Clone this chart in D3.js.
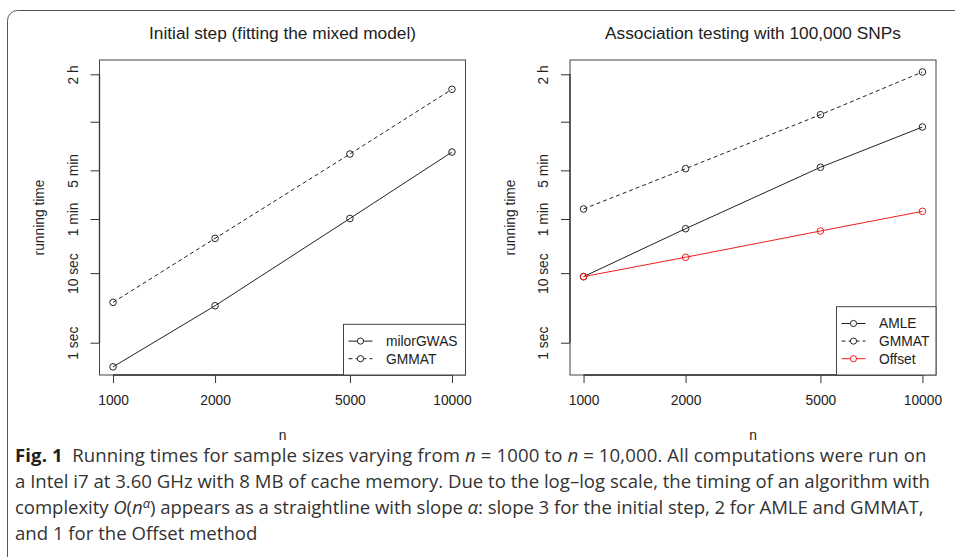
<!DOCTYPE html>
<html>
<head>
<meta charset="utf-8">
<script src="https://cdn.jsdelivr.net/npm/d3@7"></script>
<style>
  body { margin: 0; background: #fff; }
  .plot text { font-family: "Liberation Sans", Arial, Helvetica, sans-serif; fill: #222; }
</style>
</head>
<body>
<div id="chart"></div>
<script>
// sample sizes on the x axis
const sampleSizes = [1000, 2000, 5000, 10000];
// running times in seconds
const initMilorGWAS = [0.45, 3.4, 61, 550];
const initGMMAT = [3.8, 31.6, 515, 4385];
const assocAMLE = [8.9, 43.5, 332, 1259];
const assocGMMAT = [83.5, 317, 1892, 7780];
const assocOffset = [8.9, 16.9, 40.3, 77.3];
// y ticks in seconds and their labels
const timeTicks = [1, 10, 60, 300, 1500, 7200];
const timeTickLabels = ["1 sec", "10 sec", "1 min", "5 min", "", "2 h"];
const panelTitles = ["Initial step (fitting the mixed model)", "Association testing with 100,000 SNPs"];

const W = 955, H = 557;
const plotTop = 60, plotBottom = 375;

const svg = d3.select("#chart").append("svg")
  .attr("width", W).attr("height", H)
  .style("display", "block");

svg.append("rect").attr("width", W).attr("height", H).attr("fill", "#fff");

// outer frame, open to the right and bottom
svg.append("path")
  .attr("d", "M7.5,557 V20.5 A10,10 0 0 1 17.5,10.5 H955")
  .attr("fill", "none").attr("stroke", "#555").attr("stroke-width", 1);

const panels = [
  {
    title: panelTitles[0], left: 99.5, right: 465.5, legendLeft: 343.5,
    series: [
      { name: "milorGWAS", values: initMilorGWAS, color: "#222", dash: null },
      { name: "GMMAT", values: initGMMAT, color: "#222", dash: "4,3" }
    ]
  },
  {
    title: panelTitles[1], left: 570, right: 936, legendLeft: 836.5,
    series: [
      { name: "AMLE", values: assocAMLE, color: "#222", dash: null },
      { name: "GMMAT", values: assocGMMAT, color: "#222", dash: "4,3" },
      { name: "Offset", values: assocOffset, color: "#f01c1c", dash: null }
    ]
  }
];

panels.forEach(p => {
  const g = svg.append("g").attr("class", "plot");

  // R style 4% padding on each side of the log range
  const x = d3.scaleLog()
    .domain([1000 / Math.pow(10, 0.04), 10000 * Math.pow(10, 0.04)])
    .range([p.left, p.right]);
  const y = d3.scaleLog()
    .domain([Math.pow(10, -0.464), Math.pow(10, 4.063)])
    .range([plotBottom, plotTop]);

  // box
  g.append("rect")
    .attr("x", p.left).attr("y", plotTop)
    .attr("width", p.right - p.left).attr("height", plotBottom - plotTop)
    .attr("fill", "none").attr("stroke", "#444").attr("stroke-width", 1);

  // y axis
  const yAx = g.append("g")
    .attr("transform", "translate(" + p.left + ",0)")
    .call(d3.axisLeft(y).tickValues(timeTicks).tickFormat((d, i) => timeTickLabels[i]).tickSize(9).tickPadding(0));
  yAx.select(".domain").remove();
  yAx.selectAll("line").attr("stroke", "#333");
  yAx.selectAll("text")
    .attr("x", null).attr("dy", null)
    .attr("text-anchor", "middle")
    .attr("transform", "translate(-22,0) rotate(-90)")
    .style("font-size", "13.8px");
  yAx.append("line")
    .attr("y1", y(timeTicks[0])).attr("y2", y(timeTicks[timeTicks.length - 1]))
    .attr("stroke", "#333").attr("stroke-width", 1.3);

  // x axis
  const xAx = g.append("g")
    .attr("transform", "translate(0," + plotBottom + ")")
    .call(d3.axisBottom(x).tickValues(sampleSizes).tickFormat(d3.format("d")).tickSize(8).tickPadding(12));
  xAx.select(".domain").remove();
  xAx.selectAll("line").attr("stroke", "#333");
  xAx.selectAll("text").style("font-size", "13.8px");
  xAx.append("line")
    .attr("x1", x(sampleSizes[0])).attr("x2", x(sampleSizes[sampleSizes.length - 1]))
    .attr("stroke", "#333").attr("stroke-width", 1.3);

  // titles and axis labels
  g.append("text")
    .attr("x", (p.left + p.right) / 2).attr("y", 39.3)
    .attr("text-anchor", "middle")
    .style("font-size", "17.3px")
    .text(p.title);
  g.append("text")
    .attr("x", (p.left + p.right) / 2).attr("y", 440)
    .attr("text-anchor", "middle")
    .style("font-size", "13.8px")
    .text("n");
  g.append("text")
    .attr("transform", "translate(" + (p.left - 55.5) + "," + (plotTop + plotBottom) / 2 + ") rotate(-90)")
    .attr("text-anchor", "middle")
    .style("font-size", "13.8px")
    .text("running time");

  // series
  const line = d3.line().x((d, i) => x(sampleSizes[i])).y(d => y(d));
  p.series.forEach(s => {
    g.append("path")
      .datum(s.values)
      .attr("d", line)
      .attr("fill", "none")
      .attr("stroke", s.color)
      .attr("stroke-width", 1)
      .attr("stroke-dasharray", s.dash);
    g.selectAll(null)
      .data(s.values)
      .enter()
      .append("circle")
      .attr("cx", (d, i) => x(sampleSizes[i]))
      .attr("cy", d => y(d))
      .attr("r", 3.3)
      .attr("fill", "none")
      .attr("stroke", s.color)
      .attr("stroke-width", 1);
  });

  // legend, anchored bottom right of the box
  const n = p.series.length;
  const legTop = plotBottom - (15.5 + n * 17.6);
  g.append("rect")
    .attr("x", p.legendLeft).attr("y", legTop)
    .attr("width", p.right - p.legendLeft).attr("height", plotBottom - legTop)
    .attr("fill", "#fff").attr("stroke", "#444").attr("stroke-width", 1);
  p.series.forEach((s, i) => {
    const cy = legTop + 16.8 + i * 17.6;
    g.append("line")
      .attr("x1", p.legendLeft + 5).attr("x2", p.legendLeft + 29)
      .attr("y1", cy).attr("y2", cy)
      .attr("stroke", s.color).attr("stroke-width", 1)
      .attr("stroke-dasharray", s.dash);
    g.append("circle")
      .attr("cx", p.legendLeft + 17).attr("cy", cy).attr("r", 3.1)
      .attr("fill", "#fff").attr("stroke", s.color).attr("stroke-width", 1);
    g.append("text")
      .attr("x", p.legendLeft + 42.5).attr("y", cy).attr("dy", "0.35em")
      .style("font-size", "13.8px")
      .text(s.name);
  });
});

// caption
const captionLines = [
  [["Fig. 1", "b"], ["\u2002Running times for sample sizes varying from ", ""], ["n", "i"], [" = 1000 to ", ""], ["n", "i"], [" = 10,000. All computations were run on", ""]],
  [["a Intel i7 at 3.60 GHz with 8 MB of cache memory. Due to the log\u2013log scale, the timing of an algorithm with", ""]],
  [["complexity ", ""], ["O", "i"], ["(", ""], ["n", "i"], ["\u03b1", "sup"], [") appears as a straightline with slope ", ""], ["\u03b1", "i"], [": slope 3 for the initial step, 2 for AMLE and GMMAT,", ""]],
  [["and 1 for the Offset method", ""]]
];
const captionRight = [926.5, 930, 923.5, null];
const captionLeft = 15;

const cap = svg.append("g")
  .style("font-family", "'Open Sans', 'Liberation Sans', sans-serif")
  .attr("fill", "#333");

function drawCaption(size) {
  cap.selectAll("*").remove();
  return captionLines.map((segs, li) => {
    const t = cap.append("text")
      .attr("x", captionLeft).attr("y", 462 + li * 26)
      .style("font-size", size + "px");
    let raise = 0;
    segs.forEach(([str, st]) => {
      const ts = t.append("tspan").text(str);
      if (st === "b") ts.style("font-weight", "bold").attr("fill", "#231f20");
      if (st === "i") ts.style("font-style", "italic");
      if (st === "sup") {
        ts.style("font-style", "italic").style("font-size", (size * 0.7) + "px").attr("dy", -6);
        raise = 6;
      } else if (raise) {
        ts.attr("dy", raise);
        raise = 0;
      }
    });
    return t;
  });
}

// pick the font size from the unjustified last line, then justify the others
let texts = drawCaption(16);
const nat = texts[3].node().getComputedTextLength();
const capSize = 16 * (257.5 - captionLeft) / nat;
texts = drawCaption(capSize);
texts.forEach((t, i) => {
  if (captionRight[i] != null) {
    t.attr("textLength", captionRight[i] - captionLeft).attr("lengthAdjust", "spacing");
  }
});
</script>
</body>
</html>
